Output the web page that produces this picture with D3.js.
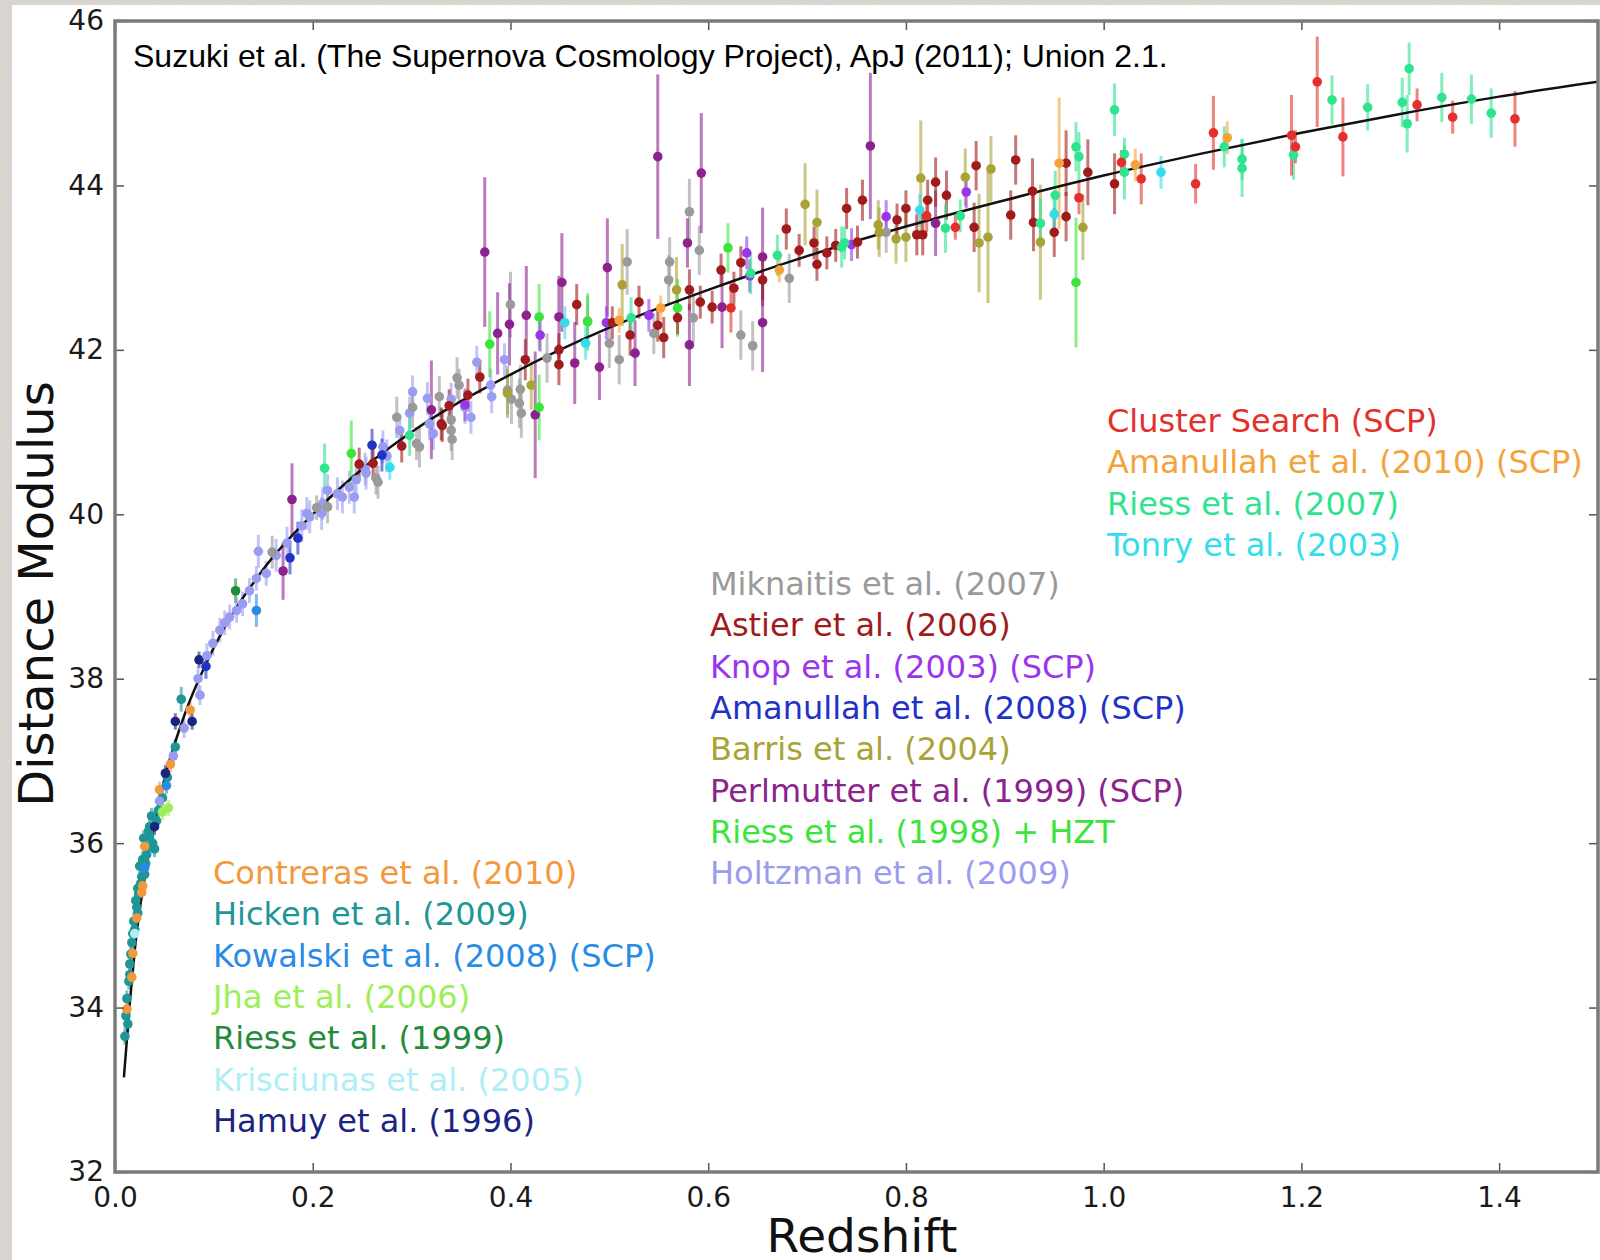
<!DOCTYPE html>
<html>
<head>
<meta charset="utf-8">
<script src="https://cdn.jsdelivr.net/npm/d3@7"></script>
<style>
  body { margin: 0; background: #d9d6d0; }
  svg { display: block; }
</style>
</head>
<body>
<div id="chart"></div>
<script>
// ---- data: [redshift, distance modulus, error] ----
const clusterSearch = [[0.623,42.51,0.3],[0.821,43.63,0.2],[0.850,43.49,0.15],[0.975,43.85,0.2],[1.018,44.28,0.15],
  [1.038,44.08,0.31],[1.093,44.02,0.24],[1.111,44.64,0.45],[1.190,44.61,0.49],[1.194,44.47,0.2],[1.216,45.26,0.55],
  [1.242,44.59,0.48],[1.317,44.98,0.2],[1.353,44.83,0.2],[1.416,44.81,0.34]];
const amanullah2010 = [[0.510,42.36,0.15],[0.552,42.51,0.15],[0.672,42.97,0.15],[0.955,44.27,0.8],[1.032,44.25,0.2],[1.125,44.58,0.2]];
const riess2007 = [[0.212,40.56,0.3],[0.298,40.96,0.25],[0.522,42.39,0.25],[0.643,42.93,0.25],[0.670,43.15,0.25],[0.735,43.25,0.25],
  [0.738,43.30,0.2],[0.840,43.48,0.3],[0.855,43.63,0.2],[0.936,43.54,0.3],[0.951,43.88,0.3],[0.972,44.47,0.3],
  [0.975,44.35,0.3],[1.011,44.92,0.32],[1.021,44.16,0.33],[1.021,44.38,0.2],[1.122,44.47,0.25],[1.140,44.32,0.25],
  [1.140,44.21,0.35],[1.192,44.37,0.3],[1.231,45.04,0.3],[1.267,44.95,0.28],[1.302,45.01,0.3],[1.307,44.75,0.35],
  [1.309,45.42,0.32],[1.342,45.07,0.3],[1.372,45.05,0.3],[1.392,44.88,0.3]];
const tonry2003 = [[0.278,40.57,0.15],[0.455,42.33,0.2],[0.476,42.08,0.2],[0.814,43.70,0.2],[0.950,43.65,0.2],[1.058,44.16,0.2]];
const miknaitis2007 = [[0.159,39.54,0.2],[0.204,40.08,0.15],[0.215,40.09,0.2],[0.264,40.44,0.2],[0.266,40.39,0.2],
  [0.285,41.18,0.25],[0.301,41.30,0.25],[0.305,40.86,0.2],[0.308,40.82,0.25],[0.328,41.43,0.25],[0.340,41.02,0.25],
  [0.340,41.15,0.25],[0.341,40.91,0.25],[0.346,41.66,0.25],[0.348,41.57,0.2],[0.397,41.51,0.3],[0.400,42.55,0.4],
  [0.401,41.40,0.3],[0.409,41.35,0.3],[0.410,41.52,0.3],[0.411,41.23,0.3],[0.437,41.90,0.3],[0.478,42.35,0.3],
  [0.500,42.08,0.3],[0.510,41.88,0.3],[0.518,43.07,0.4],[0.545,42.20,0.25],[0.560,42.85,0.3],[0.561,43.07,0.3],
  [0.581,43.68,0.4],[0.585,42.39,0.3],[0.591,43.21,0.3],[0.633,42.18,0.3],[0.645,42.05,0.3],[0.682,42.87,0.3],
  [0.780,43.43,0.25]];
const astier2006 = [[0.247,40.61,0.2],[0.261,40.62,0.2],[0.290,40.83,0.2],[0.330,41.10,0.2],[0.331,41.08,0.2],[0.338,41.32,0.2],
  [0.357,41.45,0.2],[0.369,41.67,0.2],[0.415,41.88,0.25],[0.449,41.82,0.25],[0.449,42.00,0.2],[0.467,42.55,0.25],
  [0.503,42.33,0.2],[0.521,42.18,0.25],[0.530,42.58,0.2],[0.549,42.30,0.2],[0.555,42.15,0.25],[0.569,42.39,0.2],
  [0.581,42.73,0.25],[0.592,42.58,0.2],[0.604,42.52,0.2],[0.613,42.97,0.2],[0.626,42.75,0.2],[0.633,43.06,0.2],
  [0.655,42.85,0.25],[0.679,43.47,0.25],[0.692,43.21,0.2],[0.707,43.30,0.2],[0.710,43.04,0.2],[0.720,43.18,0.2],
  [0.729,43.27,0.2],[0.740,43.72,0.25],[0.751,43.31,0.2],[0.756,43.82,0.25],[0.791,43.58,0.2],[0.800,43.72,0.22],
  [0.811,43.40,0.25],[0.817,43.40,0.25],[0.822,43.82,0.25],[0.830,44.04,0.3],[0.841,43.88,0.3],[0.869,43.49,0.3],
  [0.871,44.24,0.3],[0.906,43.64,0.3],[0.911,44.31,0.3],[0.928,43.93,0.4],[0.929,43.55,0.35],[0.950,43.43,0.3],
  [0.962,44.27,0.4],[0.962,43.62,0.3],[0.984,44.16,0.4],[1.011,44.02,0.37]];
const knop2003 = [[0.354,41.33,0.2],[0.430,42.18,0.2],[0.497,42.33,0.2],[0.540,42.42,0.2],[0.639,43.18,0.2],[0.642,42.90,0.2],
  [0.745,43.28,0.2],[0.780,43.62,0.2],[0.861,43.92,0.2]];
const amanullah2008 = [[0.092,38.15,0.15],[0.177,39.47,0.2],[0.185,39.71,0.2],[0.260,40.84,0.2],[0.270,40.72,0.2]];
const barris2004 = [[0.397,41.47,0.3],[0.421,41.57,0.3],[0.513,42.79,0.5],[0.568,42.73,0.4],[0.698,43.77,0.5],
  [0.710,43.55,0.4],[0.772,43.52,0.3],[0.773,43.43,0.3],[0.790,43.35,0.3],[0.800,43.37,0.3],[0.815,44.09,0.7],
  [0.860,44.10,0.35],[0.874,43.30,0.6],[0.883,43.37,0.8],[0.886,44.20,0.4],[0.936,43.31,0.7],[0.979,43.49,0.4]];
const perlmutter1999 = [[0.170,39.31,0.35],[0.179,40.18,0.44],[0.320,41.27,0.6],[0.374,43.19,0.91],[0.387,42.20,0.5],
  [0.399,42.31,0.5],[0.416,42.42,0.6],[0.425,41.21,0.77],[0.449,42.40,0.5],[0.452,42.82,0.6],[0.465,41.84,0.5],
  [0.490,41.79,0.4],[0.498,43.00,0.6],[0.526,41.96,0.4],[0.549,44.35,1.0],[0.579,43.30,0.3],[0.581,42.06,0.5],
  [0.593,44.15,0.73],[0.614,42.52,0.5],[0.655,43.13,0.6],[0.655,42.33,0.6],[0.764,44.48,0.89],[0.830,43.54,0.4]];
const riess1998 = [[0.239,40.74,0.4],[0.379,42.07,0.4],[0.429,42.40,0.4],[0.429,41.30,0.4],[0.478,42.34,0.35],
  [0.569,42.51,0.35],[0.620,43.24,0.3],[0.972,42.82,0.79]];
const holtzman2009 = [[0.045,36.51,0.12],[0.059,37.06,0.12],[0.070,37.40,0.12],[0.084,38.00,0.15],[0.086,37.80,0.12],
  [0.093,38.28,0.15],[0.099,38.43,0.15],[0.106,38.59,0.15],[0.111,38.68,0.15],[0.116,38.75,0.15],[0.123,38.83,0.15],
  [0.129,38.91,0.15],[0.136,39.07,0.15],[0.143,39.22,0.15],[0.145,39.55,0.2],[0.153,39.28,0.15],[0.163,39.50,0.2],
  [0.174,39.65,0.2],[0.189,39.86,0.2],[0.194,40.01,0.2],[0.197,39.97,0.2],[0.209,40.01,0.2],[0.210,40.13,0.2],
  [0.215,40.29,0.2],[0.225,40.25,0.2],[0.230,40.21,0.2],[0.237,40.33,0.2],[0.242,40.21,0.2],[0.244,40.42,0.2],
  [0.253,40.55,0.2],[0.254,40.50,0.2],[0.271,40.82,0.2],[0.275,40.71,0.2],[0.288,41.02,0.2],[0.298,41.23,0.2],
  [0.301,41.49,0.2],[0.316,41.41,0.2],[0.318,41.10,0.2],[0.322,40.98,0.2],[0.340,41.40,0.2],[0.354,41.30,0.2],
  [0.360,41.18,0.2],[0.366,41.85,0.2],[0.380,41.57,0.2],[0.381,41.43,0.2],[0.394,41.88,0.2]];
const contreras2010 = [[0.012,33.98,0.1],[0.017,34.37,0.1],[0.018,34.66,0.1],[0.022,35.09,0.1],[0.027,35.40,0.1],
  [0.028,35.48,0.1],[0.030,35.96,0.1],[0.045,36.65,0.1],[0.056,36.96,0.1],[0.076,37.62,0.1]];
const hicken2009 = [[0.010,33.65,0.1],[0.011,33.90,0.1],[0.012,34.11,0.1],[0.013,33.80,0.1],[0.014,34.32,0.1],
  [0.015,34.53,0.1],[0.015,34.40,0.1],[0.016,34.65,0.1],[0.017,34.79,0.1],[0.018,34.90,0.1],[0.019,35.05,0.1],
  [0.020,34.95,0.1],[0.021,35.30,0.1],[0.022,35.22,0.1],[0.023,35.15,0.1],[0.023,35.45,0.1],[0.024,35.38,0.1],
  [0.025,35.72,0.1],[0.026,35.50,0.1],[0.027,35.59,0.1],[0.028,35.80,0.1],[0.029,36.06,0.1],[0.030,35.62,0.1],
  [0.031,35.75,0.1],[0.032,35.86,0.1],[0.033,35.95,0.1],[0.034,36.15,0.1],[0.035,36.09,0.1],[0.035,36.20,0.1],
  [0.037,36.33,0.1],[0.038,36.00,0.1],[0.040,35.93,0.1],[0.042,36.27,0.1],[0.044,36.40,0.1],[0.048,36.55,0.1],
  [0.053,36.80,0.1],[0.061,37.17,0.1],[0.067,37.75,0.15]];
const kowalski2008 = [[0.030,35.70,0.1],[0.052,36.70,0.1],[0.143,38.83,0.2]];
const jha2006 = [[0.048,36.38,0.1],[0.054,36.43,0.1]];
const riess1999 = [[0.122,39.07,0.15]];
const krisciunas2005 = [[0.020,34.90,0.1]];
const hamuy1996 = [[0.040,36.20,0.1],[0.051,36.85,0.1],[0.061,37.48,0.1],[0.078,37.48,0.1],[0.085,38.23,0.1]];

// best-fit curve
const curveZ  = [0.009, 0.015, 0.02, 0.03, 0.04, 0.05, 0.07, 0.1, 0.15, 0.2, 0.25, 0.3, 0.4, 0.5, 0.6, 0.7, 0.8, 0.9, 1.0, 1.1, 1.2, 1.3, 1.4, 1.5];
const curveMu = [33.15, 34.06, 34.70, 35.60, 36.25, 36.78, 37.55, 38.38, 39.33, 40.00, 40.55, 41.00, 41.70, 42.27, 42.73, 43.14, 43.50, 43.82, 44.12, 44.39, 44.64, 44.87, 45.08, 45.26];

const xTicks = [0.0, 0.2, 0.4, 0.6, 0.8, 1.0, 1.2, 1.4];
const yTicks = [32, 34, 36, 38, 40, 42, 44, 46];

// legend blocks (label, colour) in three columns
const legendRight = [
  ['Cluster Search (SCP)', '#e4302c'],
  ['Amanullah et al. (2010) (SCP)', '#f4a33a'],
  ['Riess et al. (2007)', '#2fe38f'],
  ['Tonry et al. (2003)', '#35dcec']
];
const legendMiddle = [
  ['Miknaitis et al. (2007)', '#9a9a9a'],
  ['Astier et al. (2006)', '#a01b1b'],
  ['Knop et al. (2003) (SCP)', '#9a35ec'],
  ['Amanullah et al. (2008) (SCP)', '#2232c6'],
  ['Barris et al. (2004)', '#a9a236'],
  ['Perlmutter et al. (1999) (SCP)', '#8c228e'],
  ['Riess et al. (1998) + HZT', '#3be43b'],
  ['Holtzman et al. (2009)', '#9a9cf0']
];
const legendLeft = [
  ['Contreras et al. (2010)', '#f2993e'],
  ['Hicken et al. (2009)', '#1f9696'],
  ['Kowalski et al. (2008) (SCP)', '#2a8be6'],
  ['Jha et al. (2006)', '#9cef58'],
  ['Riess et al. (1999)', '#228b3c'],
  ['Krisciunas et al. (2005)', '#aeeef6'],
  ['Hamuy et al. (1996)', '#1c2482']
];

// drawing order: low-z first, high-z on top
const series = [
  { data: hicken2009, color: '#1f9696' },
  { data: contreras2010, color: '#f2993e' },
  { data: kowalski2008, color: '#2a8be6' },
  { data: jha2006, color: '#9cef58' },
  { data: krisciunas2005, color: '#aeeef6' },
  { data: hamuy1996, color: '#1c2482' },
  { data: riess1999, color: '#228b3c' },
  { data: holtzman2009, color: '#9a9cf0' },
  { data: miknaitis2007, color: '#9a9a9a' },
  { data: barris2004, color: '#a9a236' },
  { data: perlmutter1999, color: '#8c228e' },
  { data: riess1998, color: '#3be43b' },
  { data: amanullah2008, color: '#2232c6' },
  { data: knop2003, color: '#9a35ec' },
  { data: astier2006, color: '#a01b1b' },
  { data: tonry2003, color: '#35dcec' },
  { data: riess2007, color: '#2fe38f' },
  { data: amanullah2010, color: '#f4a33a' },
  { data: clusterSearch, color: '#e4302c' }
];

const width = 1600;
const height = 1260;

const svg = d3.select('#chart').append('svg')
  .attr('width', width)
  .attr('height', height);

// linen-ish page background
const defs = svg.append('defs');
const noise = defs.append('filter').attr('id', 'linen');
noise.append('feTurbulence')
  .attr('type', 'fractalNoise')
  .attr('baseFrequency', '0.9 0.15')
  .attr('numOctaves', 2)
  .attr('seed', 3);
noise.append('feColorMatrix')
  .attr('type', 'matrix')
  .attr('values', '0 0 0 0 0.55  0 0 0 0 0.54  0 0 0 0 0.52  0 0 0 0.5 0');

svg.append('rect').attr('width', width).attr('height', height).attr('fill', '#dad7d1');
svg.append('rect').attr('width', width).attr('height', height).attr('filter', 'url(#linen)').attr('opacity', 0.35);
svg.append('rect')
  .attr('x', 12).attr('y', 5)
  .attr('width', width - 12).attr('height', height - 5)
  .attr('fill', '#ffffff');

const x = d3.scaleLinear().domain([0, 1.5]).range([115, 1598]);
const y = d3.scaleLinear().domain([32, 46]).range([1172, 21]);

defs.append('clipPath').attr('id', 'plot')
  .append('rect')
  .attr('x', x(0)).attr('y', y(46))
  .attr('width', x(1.5) - x(0)).attr('height', y(32) - y(46));

const plot = svg.append('g').attr('clip-path', 'url(#plot)');

// error bars
series.forEach(s => {
  plot.append('g')
    .selectAll('line')
    .data(s.data)
    .enter().append('line')
    .attr('x1', d => x(d[0]))
    .attr('x2', d => x(d[0]))
    .attr('y1', d => y(d[1] - d[2]))
    .attr('y2', d => y(d[1] + d[2]))
    .attr('stroke', s.color)
    .attr('stroke-width', 3)
    .attr('stroke-opacity', 0.6);
});

// best-fit line
const line = d3.line()
  .x(d => x(d[0]))
  .y(d => y(d[1]))
  .curve(d3.curveMonotoneX);

plot.append('path')
  .datum(curveZ.map((z, i) => [z, curveMu[i]]))
  .attr('d', line)
  .attr('fill', 'none')
  .attr('stroke', '#111')
  .attr('stroke-width', 2.5);

// points
series.forEach(s => {
  plot.append('g')
    .selectAll('circle')
    .data(s.data)
    .enter().append('circle')
    .attr('cx', d => x(d[0]))
    .attr('cy', d => y(d[1]))
    .attr('r', 4.8)
    .attr('fill', s.color);
});

// axes (matplotlib style: ticks inside, frame all round)
const tickFont = "'DejaVu Sans', sans-serif";

function styleAxis(g) {
  g.select('.domain').remove();
  g.selectAll('.tick line').attr('stroke', '#555').attr('stroke-width', 1.5);
  g.selectAll('.tick text').attr('fill', '#1a1a1a').style('font-family', tickFont).style('font-size', '28px');
}

svg.append('g')
  .attr('transform', `translate(0,${y(32)})`)
  .call(d3.axisBottom(x).tickValues(xTicks).tickFormat(d3.format('.1f')).tickSizeInner(-9).tickSizeOuter(0).tickPadding(15))
  .call(styleAxis);

svg.append('g')
  .attr('transform', `translate(0,${y(46)})`)
  .call(d3.axisTop(x).tickValues(xTicks).tickFormat('').tickSizeInner(-9).tickSizeOuter(0))
  .call(styleAxis);

svg.append('g')
  .attr('transform', `translate(${x(0)},0)`)
  .call(d3.axisLeft(y).tickValues(yTicks).tickFormat(d3.format('d')).tickSizeInner(-9).tickSizeOuter(0).tickPadding(11))
  .call(styleAxis);

svg.append('g')
  .attr('transform', `translate(${x(1.5)},0)`)
  .call(d3.axisRight(y).tickValues(yTicks).tickFormat('').tickSizeInner(-9).tickSizeOuter(0))
  .call(styleAxis);

svg.append('rect')
  .attr('x', x(0)).attr('y', y(46))
  .attr('width', x(1.5) - x(0)).attr('height', y(32) - y(46))
  .attr('fill', 'none')
  .attr('stroke', '#7a7a7a')
  .attr('stroke-width', 3.5);

// axis titles
svg.append('text')
  .attr('x', 862)
  .attr('y', 1252)
  .attr('text-anchor', 'middle')
  .style('font-family', tickFont)
  .style('font-size', '47px')
  .attr('fill', '#111')
  .text('Redshift');

svg.append('text')
  .attr('transform', 'translate(53,594) rotate(-90)')
  .attr('text-anchor', 'middle')
  .style('font-family', tickFont)
  .style('font-size', '48px')
  .attr('fill', '#111')
  .text('Distance Modulus');

// source note
svg.append('text')
  .attr('x', 133)
  .attr('y', 67)
  .style('font-family', "'Liberation Sans', Arial, sans-serif")
  .style('font-size', '32px')
  .attr('fill', '#000')
  .text('Suzuki et al. (The Supernova Cosmology Project), ApJ (2011); Union 2.1.');

// legends
function drawLegend(items, lx, ly) {
  svg.append('g')
    .selectAll('text')
    .data(items)
    .enter().append('text')
    .attr('x', lx)
    .attr('y', (d, i) => ly + i * 41.3)
    .style('font-family', tickFont)
    .style('font-size', '32px')
    .attr('fill', d => d[1])
    .text(d => d[0]);
}

drawLegend(legendRight, 1107, 432);
drawLegend(legendMiddle, 710, 595);
drawLegend(legendLeft, 213, 884);
</script>
</body>
</html>
